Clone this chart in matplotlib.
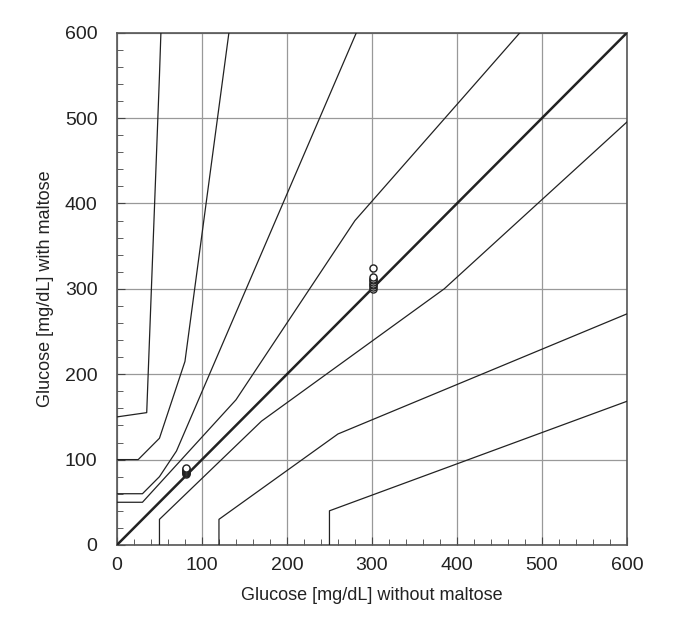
import matplotlib
matplotlib.use("Agg")
import matplotlib.pyplot as plt
from matplotlib.ticker import MultipleLocator

plt.rcParams['font.family'] = ['Liberation Sans Narrow', 'Liberation Sans', 'DejaVu Sans']

# zone boundaries (error grid), x = without maltose, y = with maltose
de_upper_x = [0, 35, 50, 51.7]
de_upper_y = [150, 155, 550, 600]
cd_upper_x = [0, 25, 50, 80, 125, 131.7]
cd_upper_y = [100, 100, 125, 215, 550, 600]
bc_upper_x = [0, 30, 50, 70, 260, 281.6]
bc_upper_y = [60, 60, 80, 110, 550, 600]
ab_upper_x = [0, 30, 140, 280, 430, 474]
ab_upper_y = [50, 50, 170, 380, 550, 600]
ab_lower_x = [50, 50, 170, 385, 550, 600]
ab_lower_y = [0, 30, 145, 300, 450, 495.5]
bc_lower_x = [120, 120, 260, 550, 600]
bc_lower_y = [0, 30, 130, 250, 270.7]
cd_lower_x = [250, 250, 550, 600]
cd_lower_y = [0, 40, 150, 168.3]

boundaries = [
    (de_upper_x, de_upper_y), (cd_upper_x, cd_upper_y), (bc_upper_x, bc_upper_y),
    (ab_upper_x, ab_upper_y), (ab_lower_x, ab_lower_y), (bc_lower_x, bc_lower_y),
    (cd_lower_x, cd_lower_y),
]

# measured samples
low_x = [81, 81, 81, 81, 81, 81, 81, 81]
low_y = [83, 84, 85, 86, 87, 88, 89, 90]
high_x = [301, 301, 301, 301, 301, 301, 301, 301, 301]
high_y = [300, 302, 304, 306, 308, 310, 312, 314, 325]

fig = plt.figure(figsize=(6.8, 6.3), dpi=100)
ax = fig.add_axes([0.172, 0.135, 0.75, 0.813])

for bx, by in boundaries:
    ax.plot(bx, by, color='#222222', lw=0.9, zorder=3)
ax.plot([0, 600], [0, 600], color='#222222', lw=1.8, zorder=3)

ax.scatter(low_x, low_y, s=26, facecolors='white', edgecolors='#222222', linewidths=1, zorder=4)
ax.scatter(high_x, high_y, s=26, facecolors='white', edgecolors='#222222', linewidths=1, zorder=4)

ax.set_xlim(0, 600)
ax.set_ylim(0, 600)
ax.xaxis.set_major_locator(MultipleLocator(100))
ax.yaxis.set_major_locator(MultipleLocator(100))
ax.xaxis.set_minor_locator(MultipleLocator(20))
ax.yaxis.set_minor_locator(MultipleLocator(20))
ax.tick_params(which='both', direction='in', top=False, right=False, labelsize=14,
               color='#444444', labelcolor='#222222')
ax.tick_params(axis='x', which='major', length=6, pad=9)
ax.tick_params(axis='y', which='major', length=6, pad=14)
ax.tick_params(which='minor', length=4)
ax.grid(True, which='major', color='#999999', lw=0.9)
ax.set_axisbelow(True)
for s in ax.spines.values():
    s.set_color('#555555')
    s.set_linewidth(1.2)

ax.set_xlabel('Glucose [mg/dL] without maltose', fontsize=13, color='#222222', labelpad=9)
ax.set_ylabel('Glucose [mg/dL] with maltose', fontsize=13, color='#222222', labelpad=8)

fig.savefig('out.png')
